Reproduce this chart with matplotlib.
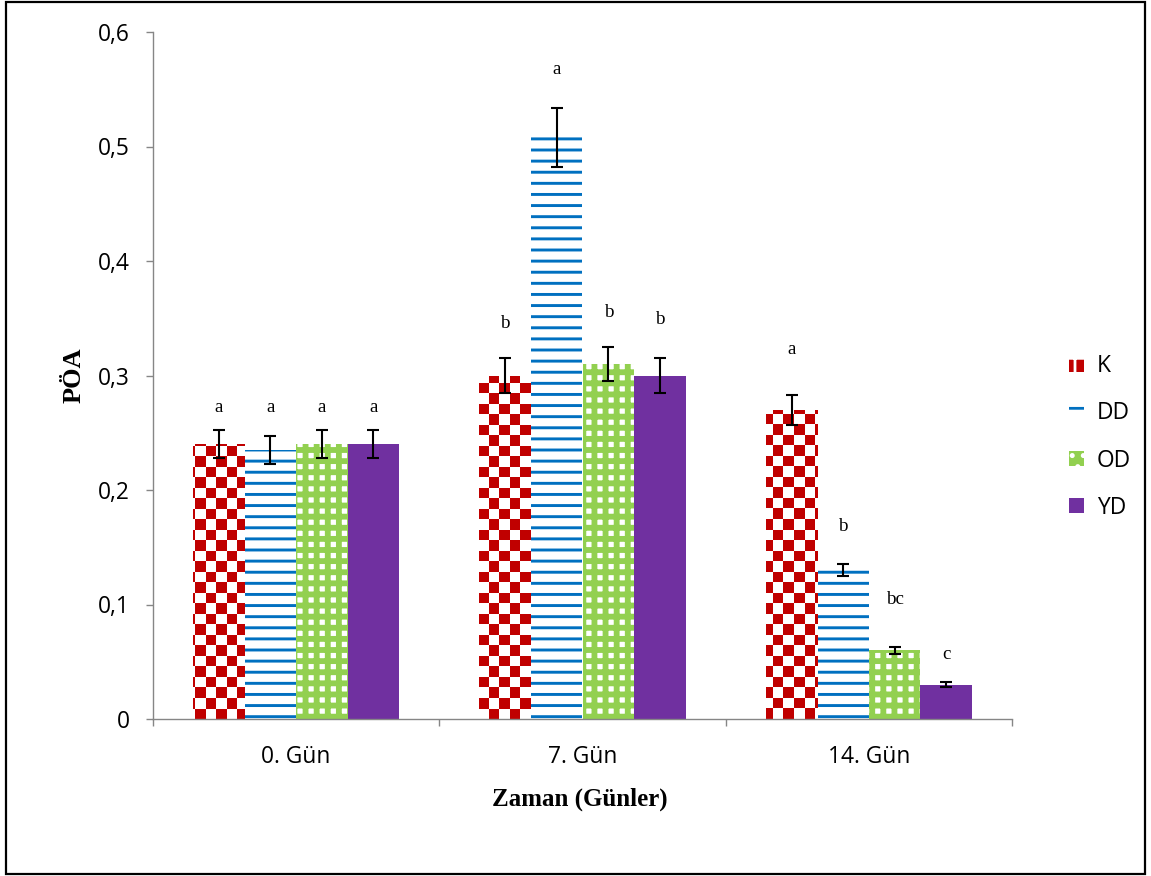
import numpy as np
import matplotlib
matplotlib.use("Agg")
import matplotlib.pyplot as plt
from matplotlib.patches import Patch, Rectangle
from matplotlib.colors import ListedColormap

# ---- data ----
groups = ["0. Gün", "7. Gün", "14. Gün"]
series = ["K", "DD", "OD", "YD"]
values = {
    "K":  [0.240, 0.300, 0.270],
    "DD": [0.235, 0.508, 0.130],
    "OD": [0.240, 0.310, 0.060],
    "YD": [0.240, 0.300, 0.030],
}
errors = {
    "K":  [0.012, 0.015, 0.013],
    "DD": [0.012, 0.026, 0.005],
    "OD": [0.012, 0.015, 0.003],
    "YD": [0.012, 0.015, 0.002],
}
letters = {
    "K":  ["a", "b", "a"],
    "DD": ["a", "a", "b"],
    "OD": ["a", "b", "bc"],
    "YD": ["a", "b", "c"],
}
letter_y = {
    "K":  [0.272, 0.345, 0.323],
    "DD": [0.272, 0.567, 0.168],
    "OD": [0.272, 0.355, 0.104],
    "YD": [0.272, 0.349, 0.056],
}
yticks = [0, 0.1, 0.2, 0.3, 0.4, 0.5, 0.6]
ytick_labels = ["0", "0,1", "0,2", "0,3", "0,4", "0,5", "0,6"]

RED = "#C00000"
BLUE = "#0070C0"
GREEN = "#92D050"
PURPLE = "#7030A0"

DPI = 200
fig = plt.figure(figsize=(1151 / DPI, 876 / DPI), dpi=DPI)
ax = fig.add_axes([153 / 1151, 1 - 719 / 876, (1012 - 153) / 1151, (719 - 32) / 876])

x = np.arange(len(groups))
w = 0.18
offsets = [-1.5 * w, -0.5 * w, 0.5 * w, 1.5 * w]

xlim = (-0.5, 2.5)
ylim = (0, 0.6)

styles = {
    "K":  dict(facecolor=RED, edgecolor=RED, hatch=None, hlw=1.0),
    "DD": dict(facecolor="white", edgecolor=BLUE, hatch="---", hlw=1.05),
    "OD": dict(facecolor="white", edgecolor=GREEN, hatch="+++", hlw=2.1),
    "YD": dict(facecolor=PURPLE, edgecolor=PURPLE, hatch=None, hlw=1.0),
}

# checkerboard texture for K
axw_px = (1012 - 153)
axh_px = (719 - 32)
cell = 10.5
nx = int(axw_px / cell) + 1
ny = int(axh_px / cell) + 1
checker = (np.add.outer(np.arange(ny), np.arange(nx)) % 2).astype(float)
cmap_k = ListedColormap([RED, "white"])

for s, off in zip(series, offsets):
    st = styles[s]
    with plt.rc_context({"hatch.linewidth": st["hlw"]}):
        bars = ax.bar(x + off, values[s], width=w, color=st["facecolor"],
                      edgecolor=st["edgecolor"], hatch=st["hatch"], linewidth=0,
                      zorder=2)
    if s == "K":
        for b in bars:
            im = ax.imshow(checker, extent=(xlim[0], xlim[1] + (nx * cell - axw_px) / axw_px * 3,
                                            ylim[0], ylim[1] + (ny * cell - axh_px) / axh_px * 0.6),
                           origin="lower", cmap=cmap_k, aspect="auto",
                           interpolation="nearest", zorder=2.5, vmin=0, vmax=1)
            im.set_clip_path(b)
    ax.errorbar(x + off, values[s], yerr=errors[s], fmt="none", ecolor="black",
                elinewidth=0.75, capsize=2.0, capthick=0.75, zorder=4)
    for xi, lt, ly in zip(x + off, letters[s], letter_y[s]):
        ax.text(xi, ly, lt, ha="center", va="center", fontsize=6.8,
                family="Liberation Serif", zorder=5)

ax.set_xlim(*xlim)
ax.set_ylim(*ylim)

for sp in ["top", "right"]:
    ax.spines[sp].set_visible(False)
for sp in ["left", "bottom"]:
    ax.spines[sp].set_color("#868686")
    ax.spines[sp].set_linewidth(0.5)

ax.set_yticks(yticks)
ax.set_yticklabels(ytick_labels, fontsize=8.2, family="Open Sans")
ax.tick_params(axis="y", direction="out", length=2.5, width=0.5, color="#868686", pad=6)

ax.set_xticks([-0.5, 0.5, 1.5, 2.5])
ax.set_xticklabels([])
ax.tick_params(axis="x", which="major", direction="out", length=2.5, width=0.5, color="#868686")
ax.set_xticks(x, minor=True)
ax.set_xticklabels(groups, minor=True, fontsize=8.2, family="Open Sans")
ax.tick_params(axis="x", which="minor", length=0, pad=9.5)

ax.set_ylabel("PÖA", fontsize=9.5, family="Liberation Serif", fontweight="bold")
ax.yaxis.set_label_coords(-0.079, 0.5)
ax.set_xlabel("Zaman (Günler)", fontsize=9, family="Liberation Serif", fontweight="bold")
ax.xaxis.set_label_coords(0.497, -0.100)

# legend
handles = [
    Patch(facecolor=RED, edgecolor="white", hatch="++", linewidth=0),
    Patch(facecolor="white", edgecolor=BLUE, hatch="--", linewidth=0),
    Patch(facecolor=GREEN, edgecolor="white", hatch="...", linewidth=0),
    Patch(facecolor=PURPLE, edgecolor=PURPLE, linewidth=0),
]
leg = fig.legend(handles, series, loc="center left",
                 bbox_to_anchor=(1058 / 1151, 1 - 437 / 876), frameon=False,
                 prop={"family": "Open Sans", "size": 8.2},
                 handlelength=0.65, handleheight=0.65, handletextpad=0.55,
                 labelspacing=1.02, borderpad=0)

# outer border
fig.add_artist(Rectangle((6 / 1151, 2 / 876), (1145 - 6) / 1151, (874 - 2) / 876,
                         transform=fig.transFigure, fill=False, edgecolor="black",
                         linewidth=0.8))

fig.savefig("out.png", dpi=DPI)
